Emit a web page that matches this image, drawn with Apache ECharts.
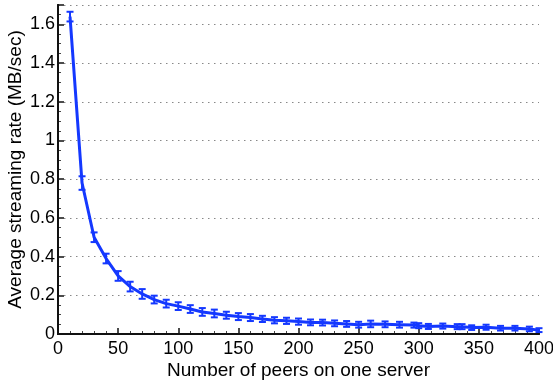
<!DOCTYPE html>
<html>
<head>
<meta charset="utf-8">
<script src="https://cdn.jsdelivr.net/npm/echarts@6/dist/echarts.min.js"></script>
<style>
  html, body { margin: 0; padding: 0; background: #fff; }
  #chart { width: 553px; height: 385px; }
</style>
</head>
<body>
<div id="chart"></div>
<script>
// number of peers on one server
const peers = [10, 20, 30, 40, 50, 60, 70, 80, 90, 100, 110, 120, 130, 140, 150,
  160, 170, 180, 190, 200, 210, 220, 230, 240, 250, 260, 272, 284, 296, 300,
  308, 320, 332, 336, 344, 356, 368, 380, 392, 400];
// average streaming rate (MB/sec)
const rates = [1.64, 0.78, 0.50, 0.39, 0.30, 0.245, 0.207, 0.178, 0.157, 0.144,
  0.129, 0.114, 0.106, 0.097, 0.090, 0.085, 0.078, 0.071, 0.068, 0.064,
  0.060, 0.059, 0.055, 0.052, 0.048, 0.052, 0.050, 0.048, 0.046, 0.043,
  0.039, 0.041, 0.038, 0.038, 0.033, 0.035, 0.030, 0.030, 0.026, 0.020];
// half-length of the error bars
const errs = [0.025, 0.035, 0.025, 0.025, 0.025, 0.025, 0.025, 0.02, 0.02, 0.02,
  0.02, 0.02, 0.02, 0.018, 0.018, 0.018, 0.016, 0.016, 0.016, 0.016,
  0.015, 0.015, 0.015, 0.015, 0.015, 0.017, 0.015, 0.015, 0.013, 0.013,
  0.013, 0.013, 0.013, 0.013, 0.012, 0.013, 0.012, 0.012, 0.012, 0.01];

const BLUE = "#1438ff";
const FONT = "'Liberation Sans', Arial, Helvetica, sans-serif";

const lineData = peers.map((x, i) => [x, rates[i]]);
const errData = peers.map((x, i) => [x, rates[i], errs[i]]);

const chart = echarts.init(document.getElementById("chart"));

chart.setOption({
  animation: false,
  backgroundColor: "#fff",
  grid: { left: 58, right: 14, top: 5, bottom: 51, containLabel: false, outerBoundsMode: "none" },
  xAxis: [
    {
      type: "value",
      min: 0,
      max: 400,
      interval: 50,
      name: "Number of peers on one server",
      nameLocation: "middle",
      nameGap: 27,
      nameMoveOverlap: false,
      nameTextStyle: { fontFamily: FONT, fontSize: 19, color: "#000" },
      axisLine: { show: true, lineStyle: { color: "#111", width: 2 } },
      axisTick: { inside: true, length: 6, lineStyle: { color: "#111", width: 1.5 } },
      minorTick: { show: true, splitNumber: 5, length: 3, lineStyle: { color: "#444", width: 1 } },
      axisLabel: { fontFamily: FONT, fontSize: 18, color: "#000", margin: 6 },
      splitLine: { show: false },
    },
    {
      // top frame edge
      type: "value",
      position: "top",
      min: 0,
      max: 400,
      z: 10,
      axisLine: { show: true, lineStyle: { color: "#111", width: 2 } },
      axisTick: { show: false },
      axisLabel: { show: false },
      splitLine: { show: false },
    },
  ],
  yAxis: [
    {
      type: "value",
      min: 0,
      max: 1.7,
      interval: 0.2,
      name: "Average streaming rate (MB/sec)",
      nameLocation: "middle",
      nameGap: 33,
      nameMoveOverlap: false,
      nameTextStyle: { fontFamily: FONT, fontSize: 19, color: "#000" },
      axisLine: { show: true, lineStyle: { color: "#111", width: 2 } },
      axisTick: { inside: true, length: 6, lineStyle: { color: "#111", width: 1.5 } },
      minorTick: { show: true, splitNumber: 4, length: 3, lineStyle: { color: "#444", width: 1 } },
      axisLabel: { fontFamily: FONT, fontSize: 18, color: "#000", margin: 3, showMaxLabel: false },
      splitLine: { show: true, lineStyle: { color: "#888", width: 1, type: [1.5, 4.5] } },
    },
    {
      // right frame edge
      type: "value",
      position: "right",
      min: 0,
      max: 1.7,
      z: 10,
      axisLine: { show: true, lineStyle: { color: "#111", width: 2 } },
      axisTick: { show: false },
      axisLabel: { show: false },
      splitLine: { show: false },
    },
  ],
  series: [
    {
      type: "line",
      data: lineData,
      showSymbol: false,
      lineStyle: { color: BLUE, width: 3 },
      z: 3,
    },
    {
      type: "custom",
      data: errData,
      encode: { x: 0, y: 1 },
      z: 4,
      renderItem: (params, api) => {
        const x = api.value(0);
        const y = api.value(1);
        const e = api.value(2);
        const top = api.coord([x, y + e]);
        const bot = api.coord([x, y - e]);
        const hw = 3.5;
        const style = { stroke: BLUE, lineWidth: 2 };
        return {
          type: "group",
          children: [
            { type: "line", shape: { x1: top[0], y1: top[1], x2: bot[0], y2: bot[1] }, style },
            { type: "line", shape: { x1: top[0] - hw, y1: top[1], x2: top[0] + hw, y2: top[1] }, style },
            { type: "line", shape: { x1: bot[0] - hw, y1: bot[1], x2: bot[0] + hw, y2: bot[1] }, style },
          ],
        };
      },
    },
  ],
});
</script>
</body>
</html>
